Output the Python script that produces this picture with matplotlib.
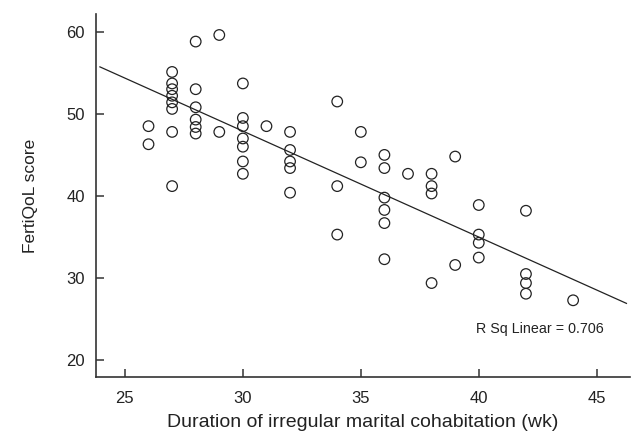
import numpy as np
import matplotlib
matplotlib.use("Agg")
import matplotlib.pyplot as plt

plt.rcParams['font.family'] = ['Liberation Sans', 'DejaVu Sans']

# Duration of irregular marital cohabitation (wk) and FertiQoL score
duration = [26, 26,
            27, 27, 27, 27, 27, 27, 27, 27,
            28, 28, 28, 28, 28, 28,
            29, 29,
            30, 30, 30, 30, 30, 30, 30,
            31,
            32, 32, 32, 32, 32,
            34, 34, 34,
            35, 35,
            36, 36, 36, 36, 36, 36,
            37,
            38, 38, 38, 38,
            39, 39,
            40, 40, 40, 40,
            42, 42, 42, 42,
            44]
score = [48.5, 46.3,
         55.1, 53.7, 53.0, 52.2, 51.4, 50.6, 47.8, 41.2,
         58.8, 53.0, 50.8, 49.3, 48.4, 47.6,
         59.6, 47.8,
         53.7, 49.5, 48.5, 47.0, 46.0, 44.2, 42.7,
         48.5,
         47.8, 45.6, 44.2, 43.4, 40.4,
         51.5, 41.2, 35.3,
         47.8, 44.1,
         45.0, 43.4, 39.8, 38.3, 36.7, 32.3,
         42.7,
         42.7, 41.2, 40.3, 29.4,
         44.8, 31.6,
         38.9, 35.3, 34.3, 32.5,
         38.2, 30.5, 29.4, 28.1,
         27.3]

# linear fit as drawn in the source figure
fit_intercept = 86.6
fit_slope = -1.29
fit_range = [23.94, 46.26]
r_sq = 0.706

x = np.array(duration, dtype=float)
y = np.array(score, dtype=float)

fig = plt.figure(figsize=(6.31, 4.38), dpi=100)
ax = fig.add_axes([0.152, 0.14, 0.846, 0.827])

ax.scatter(x, y, s=58, facecolors='none', edgecolors='#222222', linewidths=0.9, zorder=3)

xs = np.array(fit_range)
ax.plot(xs, fit_slope * xs + fit_intercept, color='#222222', lw=0.9)

ax.set_xlim(23.77, 46.4)
ax.set_ylim(18, 62.1)
ax.set_xticks([25, 30, 35, 40, 45])
ax.set_yticks([20, 30, 40, 50, 60])

for s in ['top', 'right']:
    ax.spines[s].set_visible(False)
for s in ['left', 'bottom']:
    ax.spines[s].set_color('#333333')
    ax.spines[s].set_linewidth(1.2)
ax.tick_params(direction='in', length=6, width=1.2, color='#444444',
               labelsize=12, labelcolor='#222222')
ax.tick_params(axis='x', pad=10)
ax.tick_params(axis='y', pad=8)

ax.set_xlabel('Duration of irregular marital cohabitation (wk)', fontsize=14, color='#222222', labelpad=6)
ax.set_ylabel('FertiQoL score', fontsize=12.5, color='#222222', labelpad=20)

ax.text(39.9, 23.75, 'R Sq Linear = %.3f' % r_sq, fontsize=10.3, color='#222222', va='center', ha='left')

fig.savefig('out.png', dpi=100)
